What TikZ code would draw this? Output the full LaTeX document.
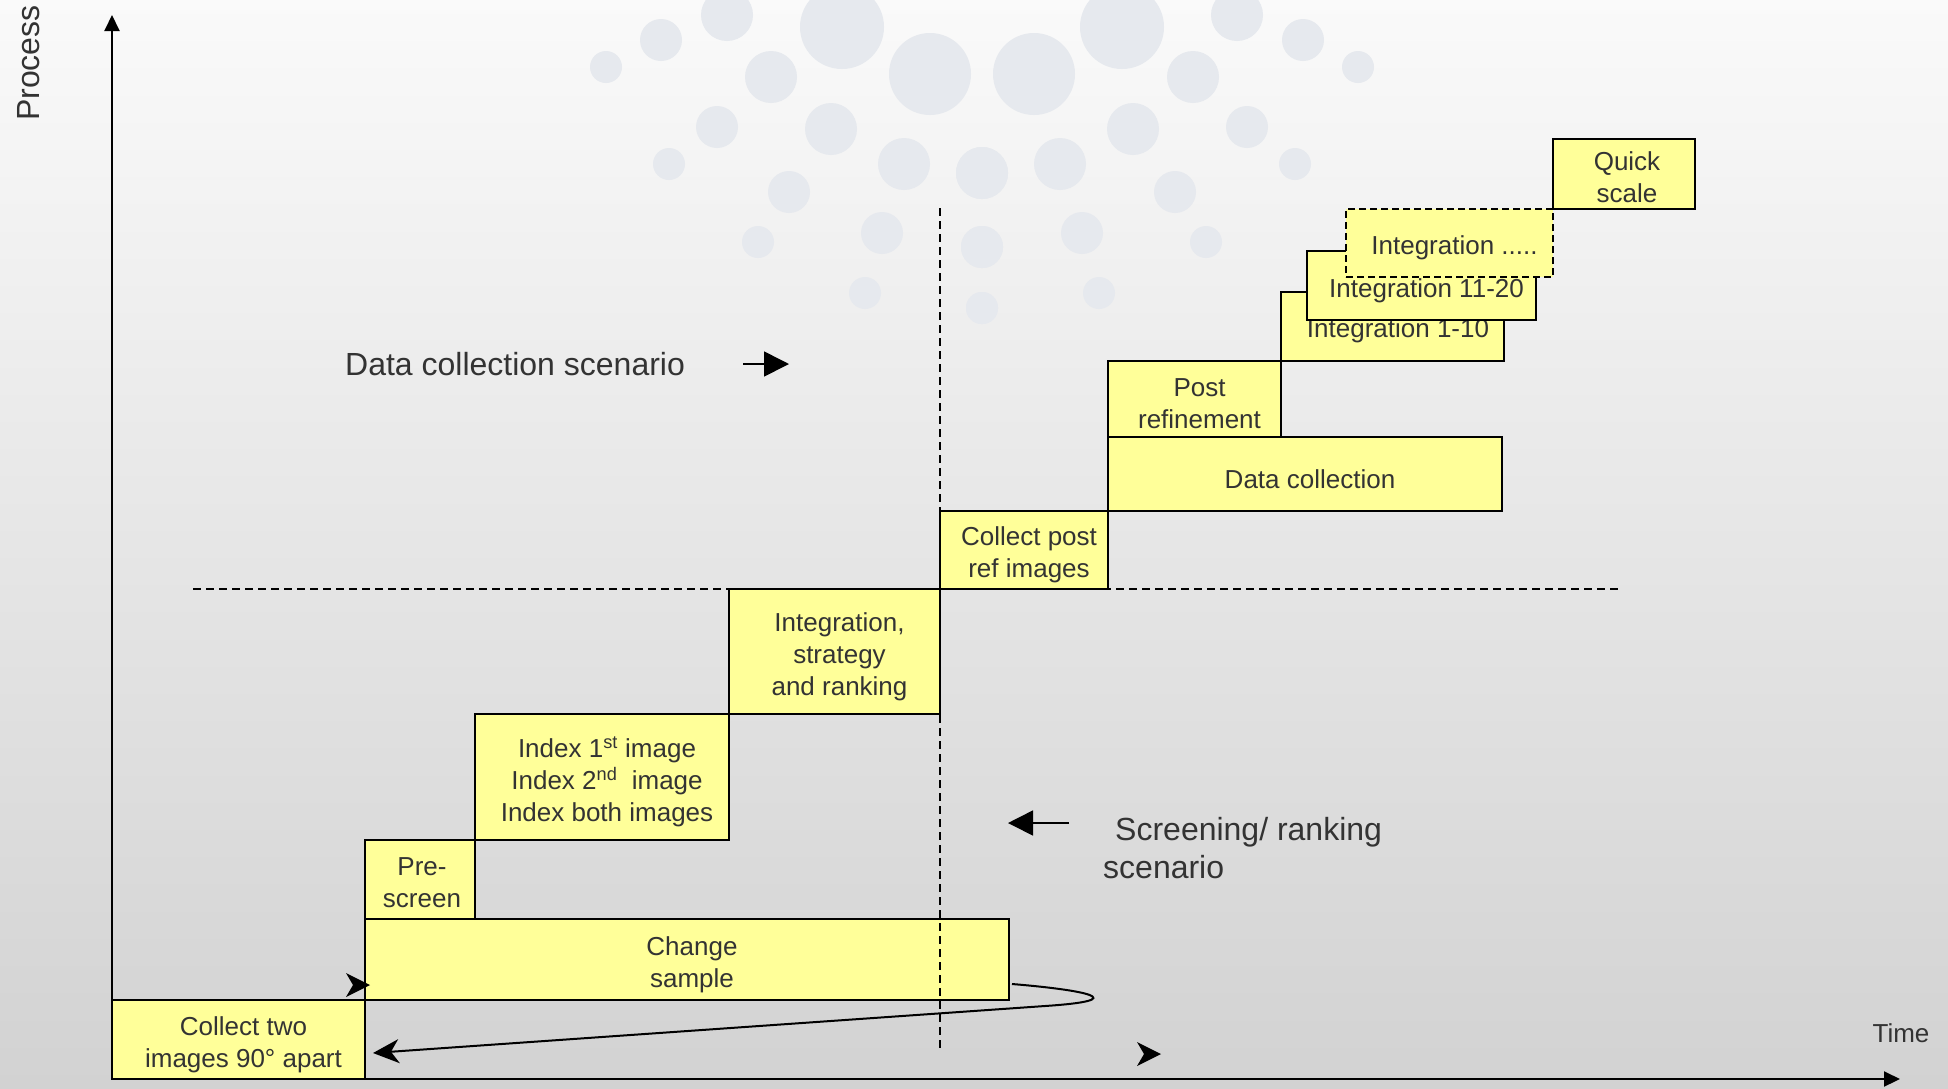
\documentclass[tikz,border=0pt]{standalone}
\usepackage{fontspec}
\setmainfont{Liberation Sans}
\usetikzlibrary{arrows.meta}
\definecolor{boxfill}{HTML}{FFFF99}
\definecolor{inkgray}{HTML}{333333}
\definecolor{dotcol}{HTML}{E6E9EE}
\definecolor{bgtop}{HTML}{FAFAFA}
\definecolor{bgmid}{HTML}{ECECEC}
\definecolor{bgbot}{HTML}{D2D2D2}

\begin{document}
\begin{tikzpicture}[x=1pt,y=-1pt,
  stagebox/.style={draw=black, line width=2pt, fill=boxfill, inner sep=0pt},
  stagetext/.style={text=inkgray, inner sep=0pt, align=center,
    font=\fontsize{26}{32}\selectfont},
  plaintext/.style={text=inkgray, inner sep=0pt, align=left},
  guide/.style={line width=2pt, dash pattern=on 8pt off 5pt},
  axisline/.style={line width=2pt, -{Triangle[length=16pt,width=15pt]}},
  pointer/.style={line width=1.6pt, -{Triangle[length=25pt,width=25pt]}},
  txtshift/.style={xshift=5pt, yshift=-5pt},
]
\useasboundingbox (0,0) rectangle (1948,1088);

% background
\shade[top color=bgtop, middle color=bgmid, bottom color=bgbot] (0,0) rectangle (1948,1088);

% decorative dot pattern, mirrored about x = 982
\foreach \dx/\y/\r in {376/67/16, 321/40/21, 255/15/26, 140/27/42, 211/77/26,
    52/74/41, 265/127/21, 151/129/26, 313/164/16, 78/164/26, 0/173/26,
    193/192/21, 224/242/16, 100/233/21, 0/247/21, 117/293/16, 0/308/16} {
  \fill[dotcol] (982+\dx,\y) circle[radius=\r pt];
  \fill[dotcol] (982-\dx,\y) circle[radius=\r pt];
}

% axes
\coordinate (origin) at (112,1079);
\coordinate (ytip) at (112,15);
\coordinate (xtip) at (1900,1079);
\draw[axisline] (origin) -- (ytip);
\draw[axisline] (origin) -- (xtip);
\node[plaintext, rotate=90, font=\fontsize{32}{38}\selectfont] (proclabel) at (29,63) {Process};
\node[plaintext, font=\fontsize{26}{32}\selectfont] (timelabel) at (1901,1033) {Time};

% process stages
\node[stagebox, minimum width=253pt, minimum height=79pt] (collect) at (238.5,1039.5) {};
\node[stagetext] (collecttxt) at ([txtshift]collect.center) {Collect two\\images 90° apart};
\node[stagebox, minimum width=644pt, minimum height=81pt] (change) at (687,959.5) {};
\node[stagetext] (changetxt) at ([txtshift]change.center) {Change\\sample};
\node[stagebox, minimum width=110pt, minimum height=79pt] (prescreen) at (420,879.5) {};
\node[stagetext] (prescreentxt) at ([xshift=2pt,yshift=-3pt]prescreen.center) {Pre-\\screen};
\node[stagebox, minimum width=254pt, minimum height=126pt] (index) at (602,777) {};
\node[stagetext] (indextxt) at ([txtshift]index.center) {Index 1\textsuperscript{st} image\\Index 2\textsuperscript{nd}~ image\\Index both images};
\node[stagebox, minimum width=211pt, minimum height=125pt] (strategy) at (834.5,651.5) {};
\node[stagetext] (strategytxt) at ([txtshift]strategy.center) {Integration,\\strategy\\and ranking};
\node[stagebox, minimum width=168pt, minimum height=78pt] (postref) at (1024,550) {};
\node[stagetext] (postreftxt) at ([txtshift]postref.center) {Collect post\\ref images};
\node[stagebox, minimum width=394pt, minimum height=74pt] (datacoll) at (1305,474) {};
\node[stagetext] (datacolltxt) at ([txtshift]datacoll.center) {Data collection};
\node[stagebox, minimum width=173pt, minimum height=76pt] (refine) at (1194.5,399) {};
\node[stagetext] (refinetxt) at ([txtshift]refine.center) {Post\\refinement};
\node[stagebox, minimum width=223pt, minimum height=69pt] (intA) at (1392.5,326.5) {};
\node[stagetext] (intAtxt) at (1398,331) {Integration 1-10};
\node[stagebox, minimum width=229pt, minimum height=69pt] (intB) at (1421.5,285.5) {};
\node[stagetext] (intBtxt) at ([txtshift]intB.center) {Integration 11-20};
\node[stagebox, dash pattern=on 7pt off 4pt, minimum width=207pt, minimum height=68pt] (intC) at (1449.5,243) {};
\node[stagetext] (intCtxt) at ([txtshift]intC.center) {Integration .....};
\node[stagebox, minimum width=142pt, minimum height=70pt] (quick) at (1624,174) {};
\node[stagetext] (quicktxt) at ([xshift=3pt,yshift=-3pt]quick.center) {Quick\\scale};

% scenario separators
\coordinate (vtop) at (940,208);
\coordinate (vbot) at (940,1050);
\coordinate (hleft) at (193,589);
\coordinate (hright) at (1621,589);
\draw[guide] (vtop) -- (vbot);
\draw[guide] (hleft) -- (hright);

% return loop from sample change back to the first stage
\coordinate (loopstart) at (1012,984);
\coordinate (loopend) at (373,1053);
\draw[line width=2pt, -{Stealth[length=26pt,width=24pt,inset=8pt]}]
  (loopstart) .. controls (1085,990) and (1135,1000) .. (1045,1006) -- (loopend);

% loose arrow heads
\fill (346,973) -- (370,985) -- (346,997) -- (353,985) -- cycle;
\fill (1137,1042) -- (1161,1054) -- (1137,1066) -- (1144,1054) -- cycle;

% scenario labels
\node[plaintext, anchor=west, font=\fontsize{32}{38}\selectfont] (dcscen) at (345,364) {Data collection scenario};
\coordinate (dcfrom) at (743,364);
\coordinate (dcto) at (789,364);
\draw[pointer] (dcfrom) -- (dcto);

\node[plaintext, anchor=west, font=\fontsize{32}{38}\selectfont] (scrscen) at (1103,848.5) {\hspace{12pt}Screening/ ranking\\scenario};
\coordinate (scrfrom) at (1069,823);
\coordinate (scrto) at (1008,823);
\draw[pointer] (scrfrom) -- (scrto);
\end{tikzpicture}
\end{document}
